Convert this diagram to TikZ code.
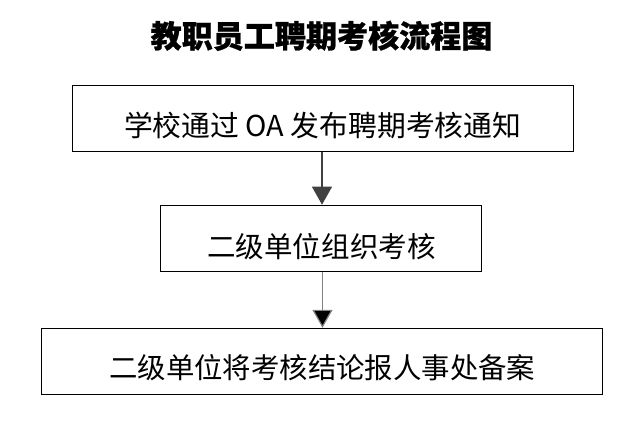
\documentclass[tikz,border=0pt]{standalone}
\usepackage{fontspec}
\newfontfamily\cjk{Noto Sans CJK SC}
\newfontfamily\cjkheavy[BoldFeatures={FakeBold=0.8}]{Noto Sans CJK SC}
\usetikzlibrary{arrows.meta}
\begin{document}
\begin{tikzpicture}[x=0.75pt,y=-0.75pt,
  stepbox/.style={draw=black,line width=0.75pt,inner sep=0pt,minimum width=#1},
  boxtext/.style={anchor=base,inner sep=0pt,font=\cjk},
  flow/.style={line width=0.9pt,-{Triangle[length=13.5pt,width=15pt]}}]
\useasboundingbox (0,0) rectangle (639,441);
\node[boxtext,font=\cjkheavy\bfseries\fontsize{23.3pt}{26pt}\selectfont] (title) at (321.5,47.6) {教职员工聘期考核流程图};
% boxes
\node[stepbox=375.75pt,minimum height=49.5pt] (b1) at (322.8,118.2) {};
\node[stepbox=240.45pt,minimum height=50pt] (b2) at (321,238.5) {};
\node[stepbox=420.75pt,minimum height=49.5pt] (b3) at (321.8,361.3) {};
% texts
\node[boxtext,font=\cjk\fontsize{21.6pt}{24pt}\selectfont] (t1) at (322.7,136.2) {学校通过 OA 发布聘期考核通知};
\node[boxtext,font=\cjk\fontsize{21.4pt}{24pt}\selectfont] (t2) at (321.5,257.6) {二级单位组织考核};
\node[boxtext,font=\cjk\fontsize{21.3pt}{24pt}\selectfont] (t3) at (322.3,378.8) {二级单位将考核结论报人事处备案};
% arrows
\draw[flow,draw=black!75] (b1.south -| 322,0) -- (b2.north -| 322,0);
\draw[flow,draw=black!50,-{Triangle[length=13.5pt,width=15pt,fill=black]}] (b2.south -| 322.5,0) -- (b3.north -| 322.5,0);
\end{tikzpicture}
\end{document}
